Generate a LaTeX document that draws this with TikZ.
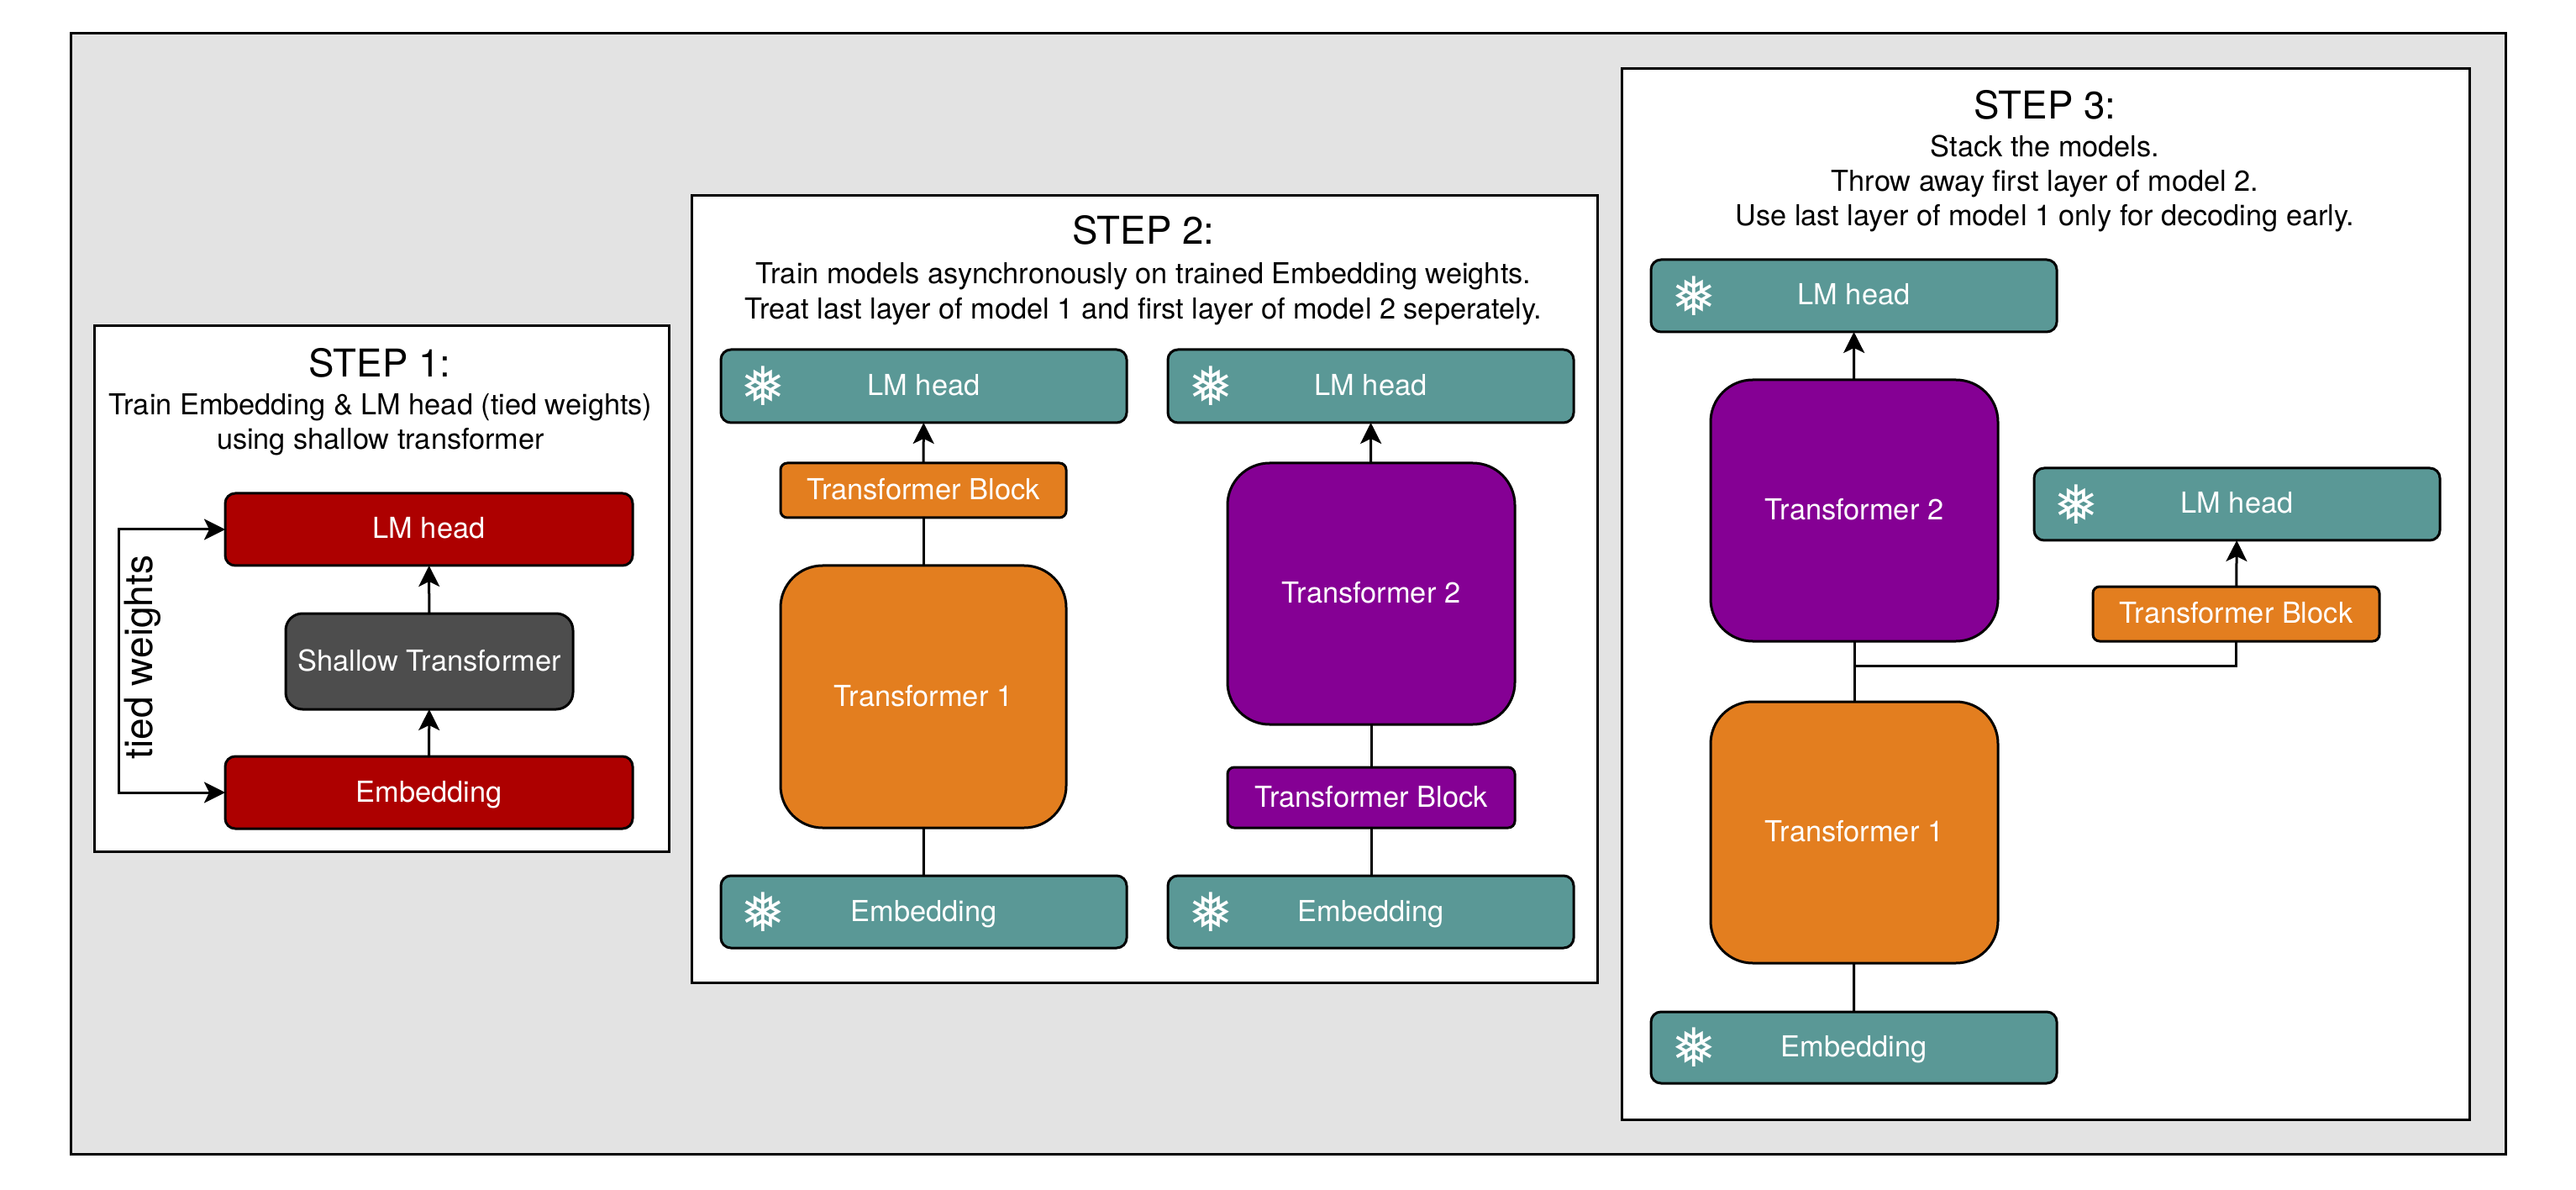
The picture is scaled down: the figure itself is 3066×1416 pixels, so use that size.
\documentclass[tikz,border=0pt]{standalone}
\usepackage{fontspec}
\setmainfont{TeX Gyre Heros}
\newfontfamily\symfont{DejaVu Sans}
\usetikzlibrary{arrows.meta}
\definecolor{bggray}{HTML}{E3E3E3}
\definecolor{cred}{HTML}{AD0000}
\definecolor{cteal}{HTML}{5A9896}
\definecolor{corange}{HTML}{E37E1F}
\definecolor{cpurple}{HTML}{850094}
\definecolor{cdark}{HTML}{4D4D4D}
\tikzset{
  x=0.5pt,y=-0.5pt,
  panel/.style={draw=black,line width=1.5pt,fill=white,inner sep=0,outer sep=0},
  bx/.style={draw=black,line width=1.5pt,text=white,inner sep=0,outer sep=0,text height=12.4pt,text depth=1.4pt,font=\fontsize{17.2}{20}\selectfont},
  small/.style={bx,rounded corners=6pt},
  tiny/.style={bx,rounded corners=4pt},
  big/.style={bx,rounded corners=25pt},
  mid/.style={bx,rounded corners=10pt},
  title/.style={font=\fontsize{22.8}{24}\selectfont,inner sep=0,text height=17pt,text depth=0pt},
  sub/.style={font=\fontsize{17.15}{20}\selectfont,inner sep=0,text height=12.6pt,text depth=0pt},
  flake/.style={text=white,inner sep=0,font=\symfont\fontsize{32}{32}\selectfont},
  arr/.style={draw=black,line width=1.5pt,-{Stealth[length=12.5pt,width=12.5pt,inset=3pt]}},
  ln/.style={draw=black,line width=1.5pt},
}
\newcommand{\bxn}[7]{\node[#2,minimum width={(#5-#3)*0.5pt},minimum height={(#6-#4)*0.5pt}] (#1) at ({(#3+#5)/2},{(#4+#6)/2}) {#7};}
\begin{document}
\begin{tikzpicture}
\useasboundingbox (0,0) rectangle (3066,1416);
\bxn{outer}{panel,fill=bggray}{84}{40}{2982}{1373}{}
\bxn{p1}{panel}{112}{388}{796}{1013}{}
\bxn{p2}{panel}{823}{233}{1901}{1169}{}
\bxn{p3}{panel}{1930}{82}{2939}{1332}{}
% step 1
\node[title] (t1) at (452,432) {STEP 1:};
\node[sub] (t1a) at (453,481) {Train Embedding \& LM head (tied weights)};
\node[sub] (t1b) at (453,522) {using shallow transformer};
\bxn{lm1}{small,fill=cred}{268}{587}{753}{673}{LM head}
\bxn{sh1}{mid,fill=cdark}{340}{730}{682}{844}{Shallow Transformer}
\bxn{em1}{small,fill=cred}{268}{900}{753}{986}{Embedding}
\draw[arr] (em1) -- (sh1);
\draw[arr] (sh1) -- (lm1);
\coordinate (tie) at (141,786);
\draw[arr] (tie) |- (lm1.west);
\draw[arr] (tie) |- (em1.west);
\node[font=\fontsize{23}{24}\selectfont,rotate=90,inner sep=0,text height=16pt,text depth=5pt] (tw) at (170,782) {tied weights};
% step 2
\node[title] (t2) at (1361,274) {STEP 2:};
\node[sub] (t2a) at (1361,325) {Train models asynchronously on trained Embedding weights.};
\node[sub] (t2b) at (1361,367) {Treat last layer of model 1 and first layer of model 2 seperately.};
\bxn{lm2}{small,fill=cteal}{858}{416}{1341}{503}{LM head}
\bxn{tb2}{tiny,fill=corange}{929}{551}{1269}{616}{Transformer Block}
\bxn{tr1}{big,fill=corange}{929}{673}{1269}{985}{Transformer 1}
\bxn{em2}{small,fill=cteal}{858}{1042}{1341}{1128}{Embedding}
\bxn{lm3}{small,fill=cteal}{1390}{416}{1873}{503}{LM head}
\bxn{tr2}{big,fill=cpurple}{1461}{551}{1803}{862}{Transformer 2}
\bxn{tb3}{tiny,fill=cpurple}{1461}{913}{1803}{985}{Transformer Block}
\bxn{em3}{small,fill=cteal}{1390}{1042}{1873}{1128}{Embedding}
\draw[ln] (em2) -- (tr1);
\draw[ln] (tr1) -- (tb2);
\draw[arr] (tb2) -- (lm2);
\draw[ln] (em3.north -| tb3.south) -- (tb3.south);
\draw[ln] (tb3) -- (tr2);
\draw[arr] (tr2) -- (lm3);
% step 3
\node[title] (t3) at (2434,125) {STEP 3:};
\node[sub] (t3a) at (2434,174) {Stack the models.};
\node[sub] (t3b) at (2434,215) {Throw away first layer of model 2.};
\node[sub] (t3c) at (2434,256) {Use last layer of model 1 only for decoding early.};
\bxn{lm4}{small,fill=cteal}{1965}{309}{2448}{395}{LM head}
\bxn{tr3}{big,fill=cpurple}{2036}{452}{2378}{763}{Transformer 2}
\bxn{tr4}{big,fill=corange}{2036}{835}{2378}{1146}{Transformer 1}
\bxn{em4}{small,fill=cteal}{1965}{1204}{2448}{1289}{Embedding}
\bxn{lm5}{small,fill=cteal}{2421}{557}{2904}{643}{LM head}
\bxn{tb4}{tiny,fill=corange}{2491}{698}{2832}{763}{Transformer Block}
\coordinate (jn) at (2207,792);
\draw[ln] (em4) -- (tr4);
\draw[ln] (tr4) -- (tr3);
\draw[arr] (tr3) -- (lm4);
\draw[ln] (jn) -| (tb4.south);
\draw[arr] (tb4) -- (lm5);
% snowflakes
\node[flake] (f2) at (908,459) {❅};
\node[flake] (f3) at (1441,459) {❅};
\node[flake] (f4) at (908,1085) {❅};
\node[flake] (f5) at (1441,1085) {❅};
\node[flake] (f6) at (2016,352) {❅};
\node[flake] (f7) at (2471,600) {❅};
\node[flake] (f8) at (2016,1246) {❅};
\end{tikzpicture}
\end{document}
